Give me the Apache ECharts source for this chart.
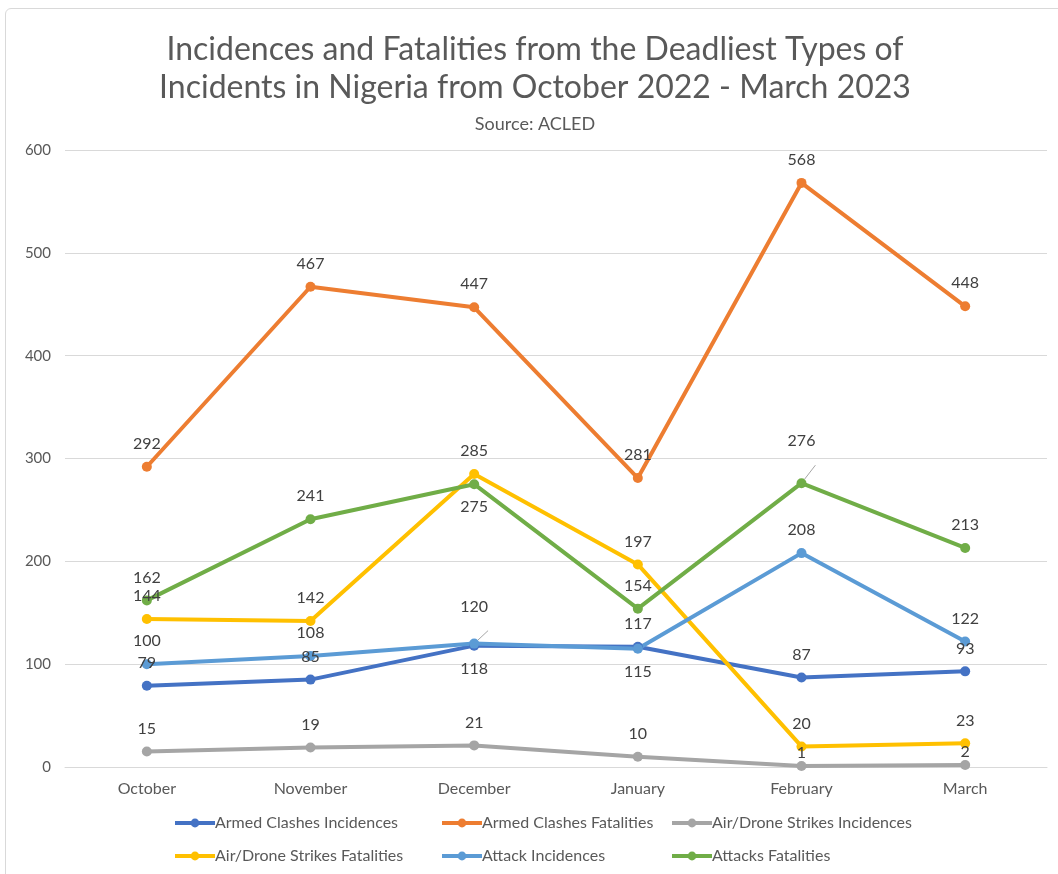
<!DOCTYPE html>
<html>
<head>
<meta charset="utf-8">
<style>
  html, body { margin: 0; padding: 0; background: #ffffff; }
  #frame { position: absolute; left: 5px; top: 8px; width: 1060px; height: 880px; border: 1px solid #d9d9d9; border-radius: 6px; box-sizing: border-box; }
  #chart { position: absolute; left: 0; top: 0; width: 1058px; height: 874px; }
</style>
<script src="https://cdn.jsdelivr.net/npm/echarts@6/dist/echarts.min.js"></script>
</head>
<body>
<div id="frame"></div>
<div id="chart"></div>
<script>
// Months on the category axis
const months = ['October', 'November', 'December', 'January', 'February', 'March'];

// Monthly counts per incident type (ACLED)
const armedClashesIncidences = [79, 85, 118, 117, 87, 93];
const armedClashesFatalities = [292, 467, 447, 281, 568, 448];
const airDroneIncidences = [15, 19, 21, 10, 1, 2];
const airDroneFatalities = [144, 142, 285, 197, 20, 23];
const attackIncidences = [100, 108, 120, 115, 208, 122];
const attacksFatalities = [162, 241, 275, 154, 276, 213];

const yTicks = { min: 0, max: 600, interval: 100 };

const FONT = 'Lato, "Liberation Sans", sans-serif';
const TEXT = '#595959';
const LABEL = '#404040';

// Points whose value label sits below the marker
const belowLabels = {
  'Armed Clashes Incidences': [2],
  'Attack Incidences': [3],
  'Attacks Fatalities': [2]
};
// Points whose label is lifted away and tied back with a leader line
const liftedLabels = {
  'Attack Incidences': { 2: 14 },
  'Attacks Fatalities': { 4: 19 }
};
// Points whose label hugs the marker more tightly
const tightLabels = {
  'Air/Drone Strikes Incidences': [4, 5]
};

function makeSeries(name, values, color) {
  const below = belowLabels[name] || [];
  const lifted = liftedLabels[name] || {};
  const tight = tightLabels[name] || [];
  return {
    name: name,
    type: 'line',
    data: values.map((v, i) => {
      const item = { value: v };
      if (below.indexOf(i) >= 0) {
        item.label = { position: 'bottom' };
      }
      if (tight.indexOf(i) >= 0) {
        item.label = { distance: 0 };
      }
      if (lifted[i] !== undefined) {
        item.label = { distance: 10 + lifted[i] };
        item.labelLine = { show: true, lineStyle: { color: '#a6a6a6', width: 1 } };
      }
      return item;
    }),
    symbol: 'circle',
    symbolSize: 10,
    lineStyle: { color: color, width: 4 },
    itemStyle: { color: color },
    label: {
      show: true,
      position: 'top',
      distance: 10,
      color: LABEL,
      fontFamily: FONT,
      fontSize: 16
    },
    emphasis: { disabled: true },
    animation: false
  };
}

const seriesDefs = [
  ['Armed Clashes Incidences', armedClashesIncidences, '#4472C4'],
  ['Armed Clashes Fatalities', armedClashesFatalities, '#ED7D31'],
  ['Air/Drone Strikes Incidences', airDroneIncidences, '#A5A5A5'],
  ['Air/Drone Strikes Fatalities', airDroneFatalities, '#FFC000'],
  ['Attack Incidences', attackIncidences, '#5B9BD5'],
  ['Attacks Fatalities', attacksFatalities, '#70AD47']
];

// Legend laid out as a 3-column table
const legendSlots = [[168, 810], [435, 810], [665, 810], [168, 843], [435, 843], [665, 843]];
const legends = seriesDefs.map((d, i) => ({
  data: [d[0]],
  left: legendSlots[i][0],
  top: legendSlots[i][1],
  itemWidth: 40,
  itemHeight: 11,
  itemGap: 0,
  selectedMode: false,
  lineStyle: { width: 4 },
  textStyle: { color: TEXT, fontFamily: FONT, fontSize: 16, padding: [0, 0, 0, -5] }
}));

const chart = echarts.init(document.getElementById('chart'), null, { renderer: 'canvas' });
chart.setOption({
  backgroundColor: 'transparent',
  animation: false,
  graphic: [
    {
      type: 'text', x: 535, y: 31,
      style: {
        text: 'Incidences and Fatalities from the Deadliest Types of\nIncidents in Nigeria from October 2022 - March 2023',
        align: 'center', fill: TEXT, font: '32px ' + FONT, lineHeight: 38
      }
    },
    {
      type: 'text', x: 535, y: 115,
      style: { text: 'Source: ACLED', align: 'center', fill: TEXT, font: '18px ' + FONT }
    }
  ],
  legend: legends,
  grid: { left: 65, right: 11, top: 150, bottom: 107, containLabel: false },
  xAxis: {
    type: 'category',
    data: months,
    boundaryGap: true,
    axisLine: { show: true, lineStyle: { color: '#d9d9d9', width: 1 } },
    axisTick: { show: false },
    axisLabel: { color: TEXT, fontFamily: FONT, fontSize: 16, margin: 14 }
  },
  yAxis: {
    type: 'value',
    min: yTicks.min,
    max: yTicks.max,
    interval: yTicks.interval,
    axisLine: { show: false },
    axisTick: { show: false },
    splitLine: { lineStyle: { color: '#d9d9d9', width: 1 } },
    axisLabel: { color: TEXT, fontFamily: FONT, fontSize: 15, margin: 14 }
  },
  series: seriesDefs.map(d => makeSeries(d[0], d[1], d[2]))
});
</script>
</body>
</html>
